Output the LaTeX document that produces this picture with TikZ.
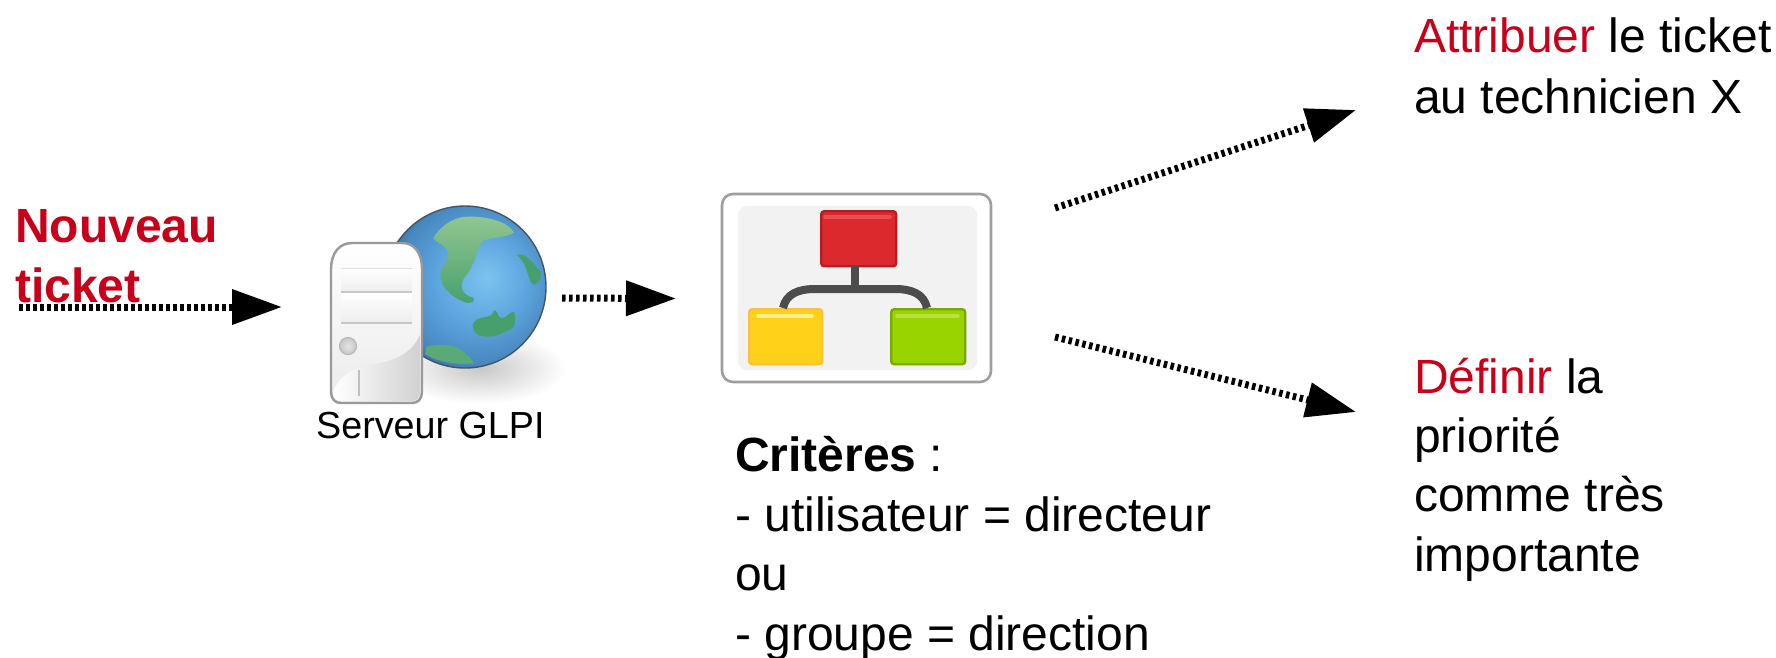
\documentclass[tikz,border=0pt]{standalone}
\usepackage{fontspec}
\setmainfont{Liberation Sans}
\usetikzlibrary{arrows.meta}
\definecolor{tkred}{RGB}{201,0,26}
\definecolor{gA}{RGB}{125,195,240}
\definecolor{gB}{RGB}{92,165,222}
\definecolor{gC}{RGB}{72,135,192}
\definecolor{gD}{RGB}{42,82,130}
\definecolor{globeline}{RGB}{70,85,100}
\definecolor{landA}{RGB}{145,198,145}
\definecolor{landB}{RGB}{70,160,108}
\definecolor{landC}{RGB}{90,170,120}
\definecolor{redline}{RGB}{184,28,34}
\definecolor{redfill}{RGB}{219,41,46}
\definecolor{redhi}{RGB}{232,78,80}
\definecolor{yelline}{RGB}{252,192,64}
\definecolor{yelfill}{RGB}{255,209,24}
\definecolor{yelhi}{RGB}{255,240,140}
\definecolor{grnline}{RGB}{122,168,0}
\definecolor{grnfill}{RGB}{154,212,0}
\definecolor{grnhi}{RGB}{184,226,64}
\pgfdeclareradialshading{globeshade}{\pgfpoint{7bp}{3bp}}{color(0bp)=(gA); color(14bp)=(gB); color(25bp)=(gC); color(32bp)=(gD); color(50bp)=(gD)}
\tikzset{
  blocktext/.style={anchor=base west,inner sep=0pt,align=left,font=\fontsize{48}{58}\selectfont,text=black},
  flowarrow/.style={line width=7pt,dash pattern=on 3.5pt off 3.5pt,black,-{Triangle[length=50pt,width=34pt,sep=0pt]}},
  chartbox/.style={rounded corners=3pt,line width=2.4pt,minimum width=#1,minimum height=55pt,anchor=north west,inner sep=0pt},
  panel/.style={draw=none,top color=white,bottom color=black!7},
  panelline/.style={draw=black!22,line width=1.2pt}
}
\begin{document}
\begin{tikzpicture}[x=1pt,y=-1pt]
\useasboundingbox (0,0) rectangle (1776,657);
% ---- globe ----
\shade[inner color=black!22,outer color=white,draw=none] (480,368) ellipse (86 and 36);
\draw[draw=globeline,line width=1.4pt,shading=globeshade] (465,287) circle (81);
\begin{scope}[shift={(420,200)},scale=0.3333]
  \shade[top color=landA,bottom color=landB]
    (40,115) .. controls (55,85) and (95,52) .. (140,50) .. controls (190,48) and (260,60) .. (282,98)
    .. controls (260,112) and (215,112) .. (190,122) .. controls (165,150) and (170,190) .. (135,230)
    .. controls (118,250) and (120,285) .. (160,293) .. controls (168,305) and (150,315) .. (130,305)
    .. controls (95,290) and (55,260) .. (62,215) .. controls (68,190) and (95,180) .. (80,150)
    .. controls (72,130) and (50,130) .. (40,115) -- cycle;
  \fill[landB]
    (290,165) .. controls (315,155) and (335,185) .. (362,215) .. controls (365,240) and (350,262) .. (335,250)
    .. controls (320,225) and (320,185) .. (290,165) -- cycle;
  \fill[landB]
    (158,375) .. controls (165,350) and (195,355) .. (215,345) .. controls (220,340) and (220,330) .. (225,330)
    .. controls (235,340) and (235,355) .. (248,355) .. controls (262,350) and (270,335) .. (282,335)
    .. controls (290,355) and (285,385) .. (270,390) .. controls (250,395) and (240,405) .. (225,408)
    .. controls (200,412) and (160,415) .. (158,375) -- cycle;
  \fill[landC]
    (20,440) .. controls (50,432) and (95,430) .. (125,450) .. controls (140,465) and (155,475) .. (162,490)
    .. controls (120,495) and (60,490) .. (15,462) -- cycle;
\end{scope}
% ---- server tower ----
\shade[top color=white,bottom color=black!8,draw=black!40,line width=2.4pt]
  (331,392) -- (331,270) .. controls (331,252) and (340,243) .. (352,243) -- (402,243)
  .. controls (414,243) and (422,252) .. (422,270) -- (422,392)
  .. controls (422,399) and (418,403) .. (412,403) -- (341,403) .. controls (335,403) and (331,399) .. (331,392) -- cycle;
\shade[left color=white,right color=black!18,draw=none]
  (333,392) .. controls (340,375) and (352,368) .. (375,364) .. controls (398,360) and (412,352) .. (420,335)
  -- (420,392) .. controls (420,397) and (417,401) .. (412,401) -- (341,401) .. controls (336,401) and (333,397) .. (333,392) -- cycle;
\shade[panel] (341,268) rectangle (412,292);
\shade[panel] (341,292) rectangle (412,323);
\draw[panelline] (341,292) -- (412,292);
\draw[panelline] (341,323) -- (412,323);
\draw[black!12,line width=1pt] (341,268) -- (412,268);
\shade[inner color=black!10,outer color=black!22,draw=black!28,line width=1.2pt] (348,346) circle (8.5);
\draw[black!25,line width=1.2pt] (359,370) -- (359,396);
% ---- chart icon ----
\draw[draw=black!38,fill=white,line width=2.6pt,rounded corners=11pt] (722,194) rectangle (991,382);
\fill[black!5,rounded corners=9pt] (738,206) rectangle (977,370);
\node[chartbox=75pt,draw=redline,fill=redfill] (redbox) at (820,210) {};
\node[chartbox=73pt,draw=yelline,fill=yelfill] (yellowbox) at (748,308) {};
\node[chartbox=74pt,draw=grnline,fill=grnfill] (greenbox) at (890,308) {};
\coordinate (hub) at (855,289);
\coordinate (redfoot) at (855,265);
\coordinate (yellowfoot) at (783,308);
\coordinate (greenfoot) at (927,308);
\draw[line width=8pt,black!70] (redfoot) -- (hub);
\draw[line width=8pt,black!70] (yellowfoot) .. controls (786,294) and (798,289) .. (815,289) -- (hub);
\draw[line width=8pt,black!70] (greenfoot) .. controls (924,294) and (912,289) .. (895,289) -- (hub);
\draw[line width=3.5pt,redhi,line cap=round] (825,217) -- (890,217);
\draw[line width=3.5pt,yelhi,line cap=round] (758,316) -- (812,316);
\draw[line width=3.5pt,grnhi,line cap=round] (897,316) -- (958,316);
% ---- texts ----
\node[blocktext,font=\fontsize{48}{58}\selectfont\bfseries,text=tkred] (nouveau) at (15,242) {Nouveau};
\node[blocktext,font=\fontsize{48}{58}\selectfont\bfseries,text=tkred] (ticket) at (15,302) {ticket};
\node[blocktext,font=\fontsize{37.7}{44}\selectfont] (serveur) at (316,438) {Serveur GLPI};
\node[blocktext] (crit1) at (735,471) {\textbf{Critères} :};
\node[blocktext] (crit2) at (735,531) {- utilisateur = directeur};
\node[blocktext] (crit3) at (735,590) {ou};
\node[blocktext] (crit4) at (735,650) {- groupe = direction};
\node[blocktext] (attr1) at (1414,52) {\textcolor{tkred}{Attribuer} le ticket};
\node[blocktext] (attr2) at (1414,113) {au technicien X};
\node[blocktext] (def1) at (1414,393) {\textcolor{tkred}{Définir} la};
\node[blocktext] (def2) at (1414,452) {priorité};
\node[blocktext] (def3) at (1414,511) {comme très};
\node[blocktext] (def4) at (1414,571) {importante};
% ---- connectors ----
\coordinate (a1s) at (19,307);   \coordinate (a1e) at (282,307);
\coordinate (a2s) at (562,298);  \coordinate (a2e) at (676,298.5);
\coordinate (a3s) at (1055,208); \coordinate (a3e) at (1356,110);
\coordinate (a4s) at (1055,337); \coordinate (a4e) at (1356,412);
\draw[flowarrow] (a1s) -- (a1e);
\draw[flowarrow] (a2s) -- (a2e);
\draw[flowarrow] (a3s) -- (a3e);
\draw[flowarrow] (a4s) -- (a4e);
\end{tikzpicture}
\end{document}
